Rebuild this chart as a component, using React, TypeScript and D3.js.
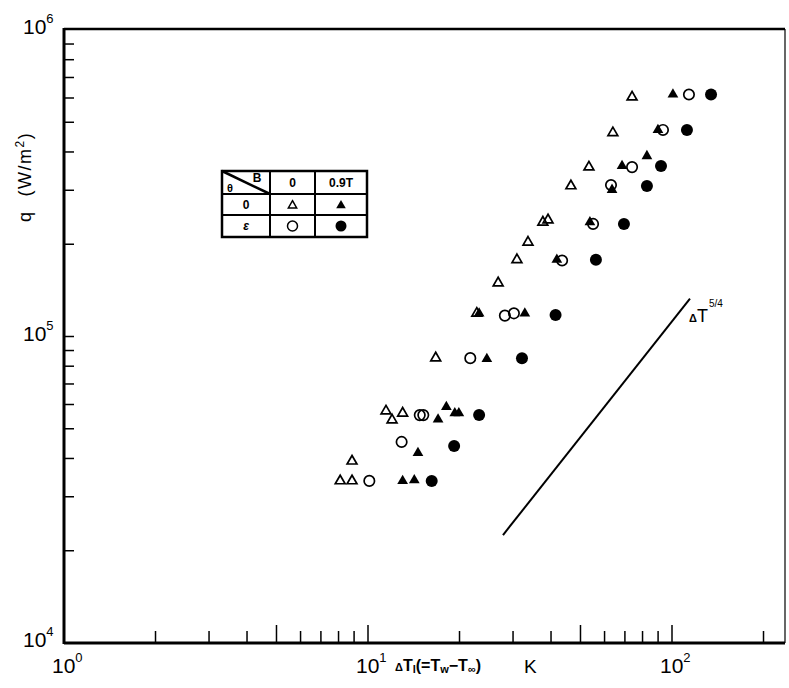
import React from 'react'
import * as d3 from 'd3'

// ΔT (K), q (W/m2)
const openTri = [
  [8.1, 33800], [8.86, 33800], [8.86, 39200], [11.46, 57100], [12.0, 53400],
  [13.0, 56200], [16.7, 85100], [22.8, 119000], [26.8, 149500], [30.9, 178000],
  [33.6, 203000], [37.6, 236000], [39.1, 240000], [46.5, 310000], [53.3, 357000],
  [63.9, 462000], [73.9, 604000]
]
const filledTri = [
  [13.0, 33800], [14.2, 34000], [14.6, 41700], [17.0, 53600], [18.1, 58900],
  [19.3, 56200], [19.9, 56200], [24.6, 84500], [23.2, 119000], [32.8, 119000],
  [41.8, 178000], [53.7, 236000], [63.5, 301000], [68.5, 360000], [82.7, 388000],
  [89.9, 472000], [100.7, 616000]
]
const openCirc = [
  [10.1, 33800], [12.9, 45300], [14.8, 55400], [15.2, 55400], [21.7, 85000],
  [28.2, 117000], [30.2, 119000], [43.5, 177000], [55.0, 233000], [63.0, 312000],
  [73.9, 357000], [93.4, 472000], [113.7, 616000]
]
const filledCirc = [
  [16.2, 33800], [19.2, 43900], [23.2, 55400], [32.1, 85000], [41.4, 117500],
  [56.2, 178000], [69.5, 233000], [82.7, 310000], [92.0, 360000], [112, 472000],
  [134.4, 616000]
]
// ΔT^5/4 guide line end points
const slopeLine = [[27.8, 22500], [114.6, 133000]]

const xTicks = [2, 3, 4, 5, 6, 7, 8, 9, 10, 20, 30, 40, 50, 60, 70, 80, 90, 100, 200]
const xMajor = [5, 10, 50, 100]
const yTicks = [2e4, 3e4, 4e4, 5e4, 6e4, 7e4, 8e4, 9e4, 1e5, 2e5, 3e5, 4e5, 5e5, 6e5, 7e5, 8e5, 9e5]
const xDecades = [[1, '0'], [10, '1'], [100, '2']]
const yDecades = [[1e4, '4'], [1e5, '5'], [1e6, '6']]

const font = '"Liberation Sans", Arial, sans-serif'

const App = () => {
  const left = 64, right = 785, top = 29, bottom = 643
  const x = d3.scaleLog().domain([1, 100]).range([64, 672])
  const y = d3.scaleLog().domain([1e4, 1e6]).range([643, 30])

  const triOpen = d3.symbol(d3.symbolTriangle, 42)()
  const triFill = d3.symbol(d3.symbolTriangle, 50)()
  const line = d3.line().x(d => x(d[0])).y(d => y(d[1]))

  // legend table geometry
  const tx = [222, 270, 315, 367]
  const ty = [171, 194, 215, 237]
  const cx = (i) => (tx[i] + tx[i + 1]) / 2
  const cy = (i) => (ty[i] + ty[i + 1]) / 2

  return (
    <svg width={789} height={688} style={{ position: 'absolute', left: 0, top: 0, background: '#fff' }}
      fontFamily={font}>
      <rect width={789} height={688} fill="#fff" />
      {/* frame */}
      <line x1={left} x2={right} y1={top} y2={top} stroke="#000" strokeWidth={2.5} />
      <line x1={right} x2={right} y1={top} y2={bottom} stroke="#000" strokeWidth={1.2} />
      <line x1={left} x2={left} y1={top - 1} y2={bottom + 1} stroke="#000" strokeWidth={3} />
      <line x1={left} x2={right} y1={bottom} y2={bottom} stroke="#000" strokeWidth={3} />

      {xTicks.map(t => (
        <line key={'xt' + t} x1={x(t)} x2={x(t)} y1={bottom} y2={bottom - (xMajor.includes(t) ? 18 : 12)}
          stroke="#000" strokeWidth={1.5} />
      ))}
      {yTicks.map(t => (
        <line key={'yt' + t} x1={left} x2={left + 10} y1={y(t)} y2={y(t)} stroke="#000" strokeWidth={1.5} />
      ))}

      {xDecades.map(([v, e]) => (
        <text key={'xd' + v} x={x(v) - 12} y={673} fontSize={21}>10
          <tspan dy={-11} fontSize={13}>{e}</tspan></text>
      ))}
      {yDecades.map(([v, e]) => (
        <text key={'yd' + v} x={23} y={y(v) + 4} fontSize={21}>10
          <tspan dy={-11} fontSize={13}>{e}</tspan></text>
      ))}

      <text x={395} y={671} fontSize={16} fontWeight="bold">
        <tspan fontSize={11}>Δ</tspan>T<tspan fontSize={11} dy={2}>l</tspan>
        <tspan dy={-2}>(=T</tspan><tspan fontSize={11} dy={2}>w</tspan>
        <tspan dy={-2}>−T</tspan><tspan fontSize={11} dy={2}>∞</tspan><tspan dy={-2}>)</tspan>
      </text>
      <text x={524} y={673} fontSize={19}>K</text>

      <text transform="translate(31,222) rotate(-90)" fontSize={18} letterSpacing={1.5}>
        q<tspan dx={14}>(W/m</tspan><tspan dy={-7} fontSize={12}>2</tspan><tspan dy={7}>)</tspan>
      </text>

      {/* ΔT^5/4 line */}
      <path d={line(slopeLine)} fill="none" stroke="#000" strokeWidth={2} />
      <text x={689} y={322} fontSize={18}>
        <tspan fontSize={11} fontWeight="bold">Δ</tspan>T<tspan dy={-15} dx={1} fontSize={10}>5/4</tspan>
      </text>

      {/* data */}
      {openTri.map((d, i) => (
        <path key={'ot' + i} d={triOpen} transform={`translate(${x(d[0])},${y(d[1])})`}
          fill="none" stroke="#000" strokeWidth={1.7} />
      ))}
      {openCirc.map((d, i) => (
        <circle key={'oc' + i} cx={x(d[0])} cy={y(d[1])} r={5.2} fill="none" stroke="#000" strokeWidth={1.7} />
      ))}
      {filledTri.map((d, i) => (
        <path key={'ft' + i} d={triFill} transform={`translate(${x(d[0])},${y(d[1])})`} fill="#000" />
      ))}
      {filledCirc.map((d, i) => (
        <circle key={'fc' + i} cx={x(d[0])} cy={y(d[1])} r={6} fill="#000" />
      ))}

      {/* legend table */}
      <g stroke="#000" strokeWidth={2} fill="none">
        <rect x={tx[0]} y={ty[0]} width={tx[3] - tx[0]} height={ty[3] - ty[0]} strokeWidth={2.5} />
        {tx.slice(1, 3).map(v => <line key={'tv' + v} x1={v} x2={v} y1={ty[0]} y2={ty[3]} />)}
        {ty.slice(1, 3).map(v => <line key={'th' + v} x1={tx[0]} x2={tx[3]} y1={v} y2={v} />)}
        <line x1={tx[0]} y1={ty[0]} x2={tx[1]} y2={ty[1]} strokeWidth={2.5} />
      </g>
      <g fontSize={12} fontWeight="bold" textAnchor="middle">
        <text x={257} y={182}>B</text>
        <text x={230} y={192} fontSize={11}>θ</text>
        <text x={cx(1)} y={cy(0) + 4}>0</text>
        <text x={cx(2)} y={cy(0) + 4}>0.9T</text>
        <text x={cx(0)} y={cy(1) + 4}>0</text>
        <text x={cx(0)} y={cy(2) + 4} fontStyle="italic">ε</text>
      </g>
      <path d={d3.symbol(d3.symbolTriangle, 30)()} transform={`translate(${cx(1)},${cy(1) + 1})`}
        fill="none" stroke="#000" strokeWidth={1.5} />
      <path d={d3.symbol(d3.symbolTriangle, 40)()} transform={`translate(${cx(2)},${cy(1) + 1})`} fill="#000" />
      <circle cx={cx(1)} cy={cy(2)} r={5} fill="none" stroke="#000" strokeWidth={1.5} />
      <circle cx={cx(2)} cy={cy(2)} r={5.5} fill="#000" />
    </svg>
  )
}

export default App
